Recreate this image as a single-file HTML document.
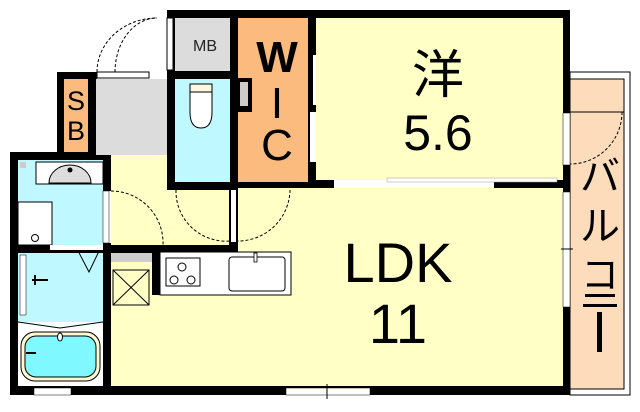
<!DOCTYPE html>
<html><head><meta charset="utf-8"><style>
html,body{margin:0;padding:0;background:#fff;width:640px;height:412px;overflow:hidden}
svg{display:block}
text{font-family:"Liberation Sans","Noto Sans CJK JP",sans-serif}
</style></head><body>
<svg width="640" height="412" viewBox="0 0 640 412" xmlns="http://www.w3.org/2000/svg">
<rect x="570" y="72" width="60" height="323" fill="#fff" stroke="#000" stroke-width="1"/>
<rect x="570" y="79" width="54" height="310" fill="#fddcbc" stroke="#000" stroke-width="1"/>
<line x1="570" y1="112" x2="624" y2="112" stroke="#000"/>
<path d="M622 112 A52 52 0 0 1 570 164" fill="none" stroke="#000" stroke-dasharray="3,2"/>
<rect x="167" y="10" width="403" height="385" fill="#000"/>
<rect x="10" y="152" width="101" height="243" fill="#000"/>
<rect x="57" y="72" width="118" height="88" fill="#000"/>
<rect x="103" y="152" width="70" height="243" fill="#000"/>
<rect x="97" y="18" width="70" height="61" fill="#fff"/>
<rect x="97" y="72" width="52" height="6" fill="#fff" stroke="#000" stroke-width="1"/>
<path d="M97 72 A60 54 0 0 1 157 18" fill="none" stroke="#000" stroke-dasharray="3,2"/>
<path d="M115 72 A42 54 0 0 1 157 18" fill="none" stroke="#000" stroke-dasharray="3,2"/>
<rect x="167" y="18" width="6" height="52" fill="#fff" stroke="#000" stroke-width="1"/>
<rect x="64" y="79" width="24" height="73" fill="#fbbb7e"/>
<rect x="96" y="79" width="71" height="76" fill="#dcdcdc"/>
<rect x="175" y="18" width="55" height="53" fill="#dcdcdc"/>
<rect x="175" y="79" width="55" height="103" fill="#bff8ff"/>
<path d="M190 84 h22 v28 q0 16 -11 16 q-11 0 -11 -16z" fill="#fff" stroke="#000"/>
<rect x="190" y="84" width="22" height="8" fill="#fff8e0" stroke="#000"/>
<rect x="238" y="18" width="70" height="164" fill="#fbbb7e"/>
<rect x="238" y="78" width="14" height="34" fill="#000"/>
<rect x="240" y="82" width="8" height="24" fill="#ccc"/>
<rect x="316" y="18" width="247" height="162" fill="#ffffc6"/>
<rect x="313" y="55" width="3" height="50" fill="#fff"/>
<rect x="310" y="112" width="6" height="50" fill="#fff"/>
<rect x="334" y="180" width="160" height="8" fill="#fff"/>
<rect x="387" y="178" width="170" height="4" fill="#fff" stroke="#999" stroke-width="0.5"/>
<rect x="563" y="113" width="7" height="52" fill="#fff" stroke="#000" stroke-width="0.5"/>
<rect x="111" y="155" width="56" height="95" fill="#ffffc6"/>
<rect x="111" y="190" width="127" height="55" fill="#ffffc6"/>
<rect x="238" y="188" width="325" height="198" fill="#ffffc6"/>
<rect x="111" y="253" width="127" height="133" fill="#ffffc6"/>
<rect x="111" y="245" width="127" height="8" fill="#000"/>
<rect x="229" y="190" width="9" height="55" fill="#000"/>
<rect x="231" y="190" width="5" height="52" fill="#fff"/>
<path d="M176 190 A50 50 0 0 0 230 241" fill="none" stroke="#000" stroke-dasharray="3,2"/>
<path d="M290 190 A52 52 0 0 1 238 241" fill="none" stroke="#000" stroke-dasharray="3,2"/>
<path d="M111 191 A52 52 0 0 1 163 245" fill="none" stroke="#000" stroke-dasharray="3,2"/>
<rect x="106" y="191" width="5" height="52" fill="#fff"/>
<rect x="563" y="192" width="7" height="115" fill="#fff" stroke="#000" stroke-width="0.5"/>
<line x1="561" y1="249" x2="573" y2="249" stroke="#000"/>
<rect x="111" y="253" width="41" height="9" fill="#ccc"/>
<rect x="113" y="270" width="36" height="35" fill="#ffffc6" stroke="#000"/>
<path d="M113 270 L149 305 M149 270 L113 305" stroke="#000"/>
<rect x="152" y="253" width="8" height="42" fill="#000"/>
<rect x="160" y="252" width="131" height="43" fill="#fff" stroke="#000"/>
<rect x="166" y="258" width="34" height="28" fill="#fff" stroke="#000"/>
<circle cx="182" cy="267" r="4" fill="none" stroke="#000"/>
<circle cx="174" cy="280" r="4" fill="none" stroke="#000"/>
<circle cx="191" cy="280" r="4" fill="none" stroke="#000"/>
<rect x="229" y="257" width="56" height="34" rx="3" fill="#fff" stroke="#000"/>
<rect x="254" y="253" width="3" height="9" fill="#fff" stroke="#000" stroke-width="0.8"/>
<rect x="18" y="160" width="85" height="85" fill="#bff8ff"/>
<rect x="36" y="162" width="67" height="22" fill="#fff" stroke="#000"/>
<path d="M49 183 A21 18 0 0 1 91 183z" fill="#ddd" stroke="#000"/>
<circle cx="70" cy="170" r="2.5" fill="#000"/>
<rect x="20" y="162" width="6" height="6" fill="#ccc"/>
<rect x="18" y="202" width="34" height="43" fill="#fff" stroke="#000"/>
<circle cx="35" cy="238" r="3.5" fill="none" stroke="#000"/>
<rect x="103" y="191" width="6" height="52" fill="#fff" stroke="#000" stroke-width="0.5"/>
<rect x="18" y="253" width="85" height="133" fill="#bff8ff"/>
<rect x="18" y="322" width="85" height="64" fill="#fff"/>
<path d="M18 322 L60 328 L103 322" fill="none" stroke="#000"/>
<path d="M76 247 L89 272 L101 247" fill="none" stroke="#000"/>
<rect x="50" y="245" width="53" height="5" fill="#fff"/>
<rect x="20" y="255" width="6" height="60" fill="#fff" stroke="#000" stroke-width="0.5"/>
<path d="M32 280 h16 M35 275 v10" stroke="#000" stroke-width="2"/>
<rect x="21" y="332" width="79" height="49" rx="14" fill="#fff8d0" stroke="#000"/>
<rect x="25" y="336" width="71" height="41" rx="11" fill="#80f8ff" stroke="#000"/>
<ellipse cx="60" cy="337" rx="2.5" ry="4" fill="#fff" stroke="#000"/>
<line x1="26" y1="353" x2="36" y2="353" stroke="#000" stroke-width="2"/>
<rect x="34" y="388" width="37" height="7" fill="#fff" stroke="#000" stroke-width="0.5"/>
<rect x="286" y="388" width="84" height="7" fill="#fff" stroke="#000" stroke-width="0.5"/>
<line x1="327" y1="384" x2="327" y2="399" stroke="#000"/>
<text x="205" y="51" font-size="16" text-anchor="middle" fill="#222">MB</text>
<text x="76" y="110" font-size="27" text-anchor="middle" fill="#000">S</text>
<text x="76" y="140" font-size="27" text-anchor="middle" fill="#000">B</text>
<text x="277" y="72" font-size="44" text-anchor="middle" font-weight="bold" fill="#000">W</text>
<text x="277" y="118" font-size="44" text-anchor="middle" fill="#000">I</text>
<text x="277" y="160" font-size="44" text-anchor="middle" fill="#000">C</text>
<text x="438" y="93" font-size="52" text-anchor="middle" fill="#000">洋</text>
<text x="438" y="150" font-size="50" text-anchor="middle" fill="#000">5.6</text>
<text x="398" y="282" font-size="56" text-anchor="middle" fill="#000">LDK</text>
<text x="398" y="343" font-size="56" text-anchor="middle" fill="#000">11</text>
<text x="600" y="190" font-size="40" text-anchor="middle" fill="#000">バ</text>
<text x="600" y="240" font-size="40" text-anchor="middle" fill="#000">ル</text>
<text x="600" y="288" font-size="38" text-anchor="middle" fill="#000">コ</text>
<rect x="585" y="294" width="30" height="3" fill="#000"/>
<rect x="583" y="304" width="34" height="3" fill="#000"/>
<rect x="597" y="312" width="5" height="40" fill="#000"/>
</svg>
</body></html>
